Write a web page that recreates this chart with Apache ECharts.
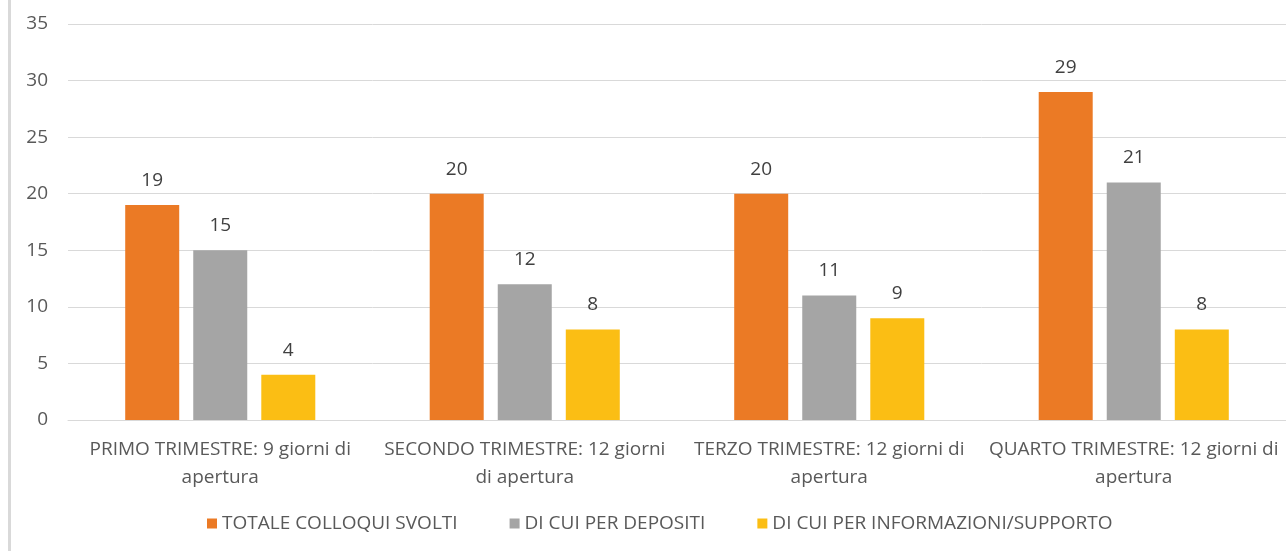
<!DOCTYPE html>
<html><head><meta charset="utf-8">
<script src="https://cdn.jsdelivr.net/npm/echarts@6/dist/echarts.min.js"></script>
<style>html,body{margin:0;padding:0;background:#fff}#c{width:1286px;height:551px}</style>
</head><body><div id="c"></div>
<script>
const categories = [
  "PRIMO TRIMESTRE: 9 giorni di\napertura",
  "SECONDO TRIMESTRE: 12 giorni\ndi apertura",
  "TERZO TRIMESTRE: 12 giorni di\napertura",
  "QUARTO TRIMESTRE: 12 giorni di\napertura"
];
const seriesNames = ["TOTALE COLLOQUI SVOLTI", "DI CUI PER DEPOSITI", "DI CUI PER INFORMAZIONI/SUPPORTO"];
const totale = [19, 20, 20, 29];
const depositi = [15, 12, 11, 21];
const informazioni = [4, 8, 9, 8];
const colors = ["#EB7A25", "#A5A5A5", "#FBBE14"];
const font = "'Open Sans', 'Noto Sans', sans-serif";

const chart = echarts.init(document.getElementById('c'), null, {renderer: 'canvas'});
const values = [totale, depositi, informazioni];
chart.setOption({
  animation: false,
  graphic: [{type: 'rect', shape: {x: 8, y: 0, width: 3, height: 551}, style: {fill: '#d9d9d9'}}],
  grid: {left: 68, right: 0, top: 24, bottom: 131, containLabel: false},
  legend: {
    data: seriesNames, bottom: 13, left: 202, itemWidth: 10, itemHeight: 10, itemGap: 52,
    icon: 'rect', textStyle: {color: '#595959', fontSize: 19, fontFamily: font}
  },
  xAxis: {
    type: 'category', data: categories,
    axisLine: {show: true, lineStyle: {color: '#d9d9d9', width: 1}},
    axisTick: {show: false},
    axisLabel: {color: '#595959', fontSize: 19, fontFamily: font, lineHeight: 28, margin: 16, interval: 0}
  },
  yAxis: {
    type: 'value', min: 0, max: 35, interval: 5,
    axisLine: {show: false}, axisTick: {show: false},
    splitLine: {lineStyle: {color: '#d9d9d9', width: 1}},
    axisLabel: {color: '#595959', fontSize: 19, fontFamily: font, margin: 20}
  },
  series: seriesNames.map((n, i) => ({
    name: n, type: 'bar', data: values[i], barWidth: 54, barGap: '26%',
    itemStyle: {color: colors[i]},
    label: {show: true, position: 'top', distance: 15, color: '#404040', fontSize: 19, fontFamily: font}
  }))
});
</script></body></html>
